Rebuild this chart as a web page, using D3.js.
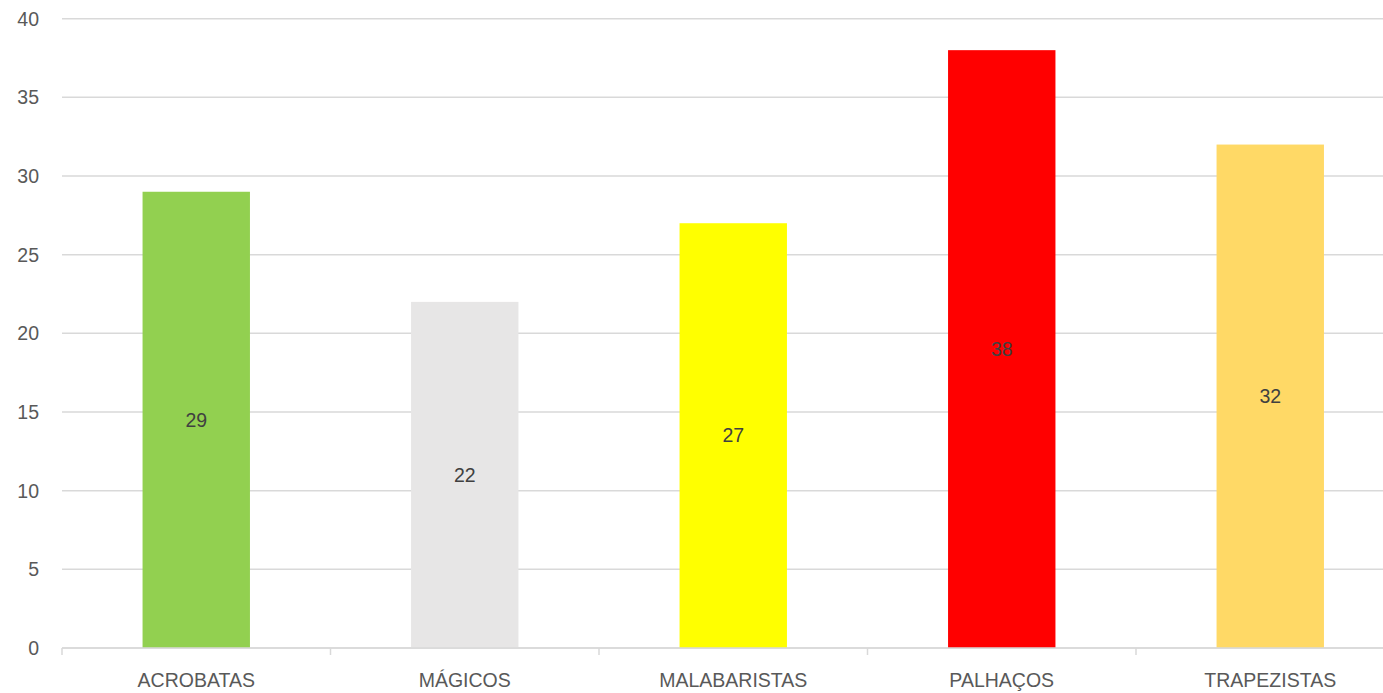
<!DOCTYPE html>
<html>
  <head>
    <meta charset="utf-8">
    <title>Circo</title>
    <script src="https://cdn.jsdelivr.net/npm/d3@7"></script>
    <style>
      body { margin: 0; background: #fff; }
      svg { display: block; font-family: "Liberation Sans", Arial, sans-serif; }
      .grid line { stroke: #d9d9d9; stroke-width: 1.5; }
      .tickLabel { fill: #595959; font-size: 19.5px; }
      .barLabel { fill: #404040; font-size: 19.5px; }
    </style>
  </head>
  <body>
    <svg id="chart" width="1383" height="693"></svg>

    <script>
      // data
      categories = ["ACROBATAS", "MÁGICOS", "MALABARISTAS", "PALHAÇOS", "TRAPEZISTAS"];
      values = [29, 22, 27, 38, 32];
      colours = ["#92d050", "#e7e6e6", "#ffff00", "#ff0000", "#ffd966"];
      yTicks = [0, 5, 10, 15, 20, 25, 30, 35, 40];

      svg = d3.select("#chart");

      // plot extends past the right edge of the picture
      left = 62;
      right = 1404.5;
      top_ = 18.7;
      bottom = 648;

      x = d3.scaleBand()
        .domain(categories)
        .range([left, right])
        .paddingInner(0.6)
        .paddingOuter(0.3);

      y = d3.scaleLinear()
        .domain([0, 40])
        .range([bottom, top_]);

      // gridlines
      svg.append("g")
        .attr("class", "grid")
        .selectAll("line")
          .data(yTicks)
        .enter().append("line")
          .attr("x1", left)
          .attr("x2", 1383)
          .attr("y1", function(d) { return y(d); })
          .attr("y2", function(d) { return y(d); });

      // y labels
      svg.append("g")
        .selectAll("text")
          .data(yTicks)
        .enter().append("text")
          .attr("class", "tickLabel")
          .attr("x", 39)
          .attr("y", function(d) { return y(d); })
          .attr("dy", "0.35em")
          .attr("text-anchor", "end")
          .text(function(d) { return d; });

      // bars
      svg.append("g")
        .selectAll("rect")
          .data(values)
        .enter().append("rect")
          .attr("x", function(d, i) { return x(categories[i]); })
          .attr("width", x.bandwidth())
          .attr("y", function(d) { return y(d); })
          .attr("height", function(d) { return y(0) - y(d); })
          .style("fill", function(d, i) { return colours[i]; });

      // category separators
      step = x.step();
      svg.append("g")
        .selectAll("line")
          .data(d3.range(categories.length))
        .enter().append("line")
          .attr("x1", function(d) { return left + d * step; })
          .attr("x2", function(d) { return left + d * step; })
          .attr("y1", bottom)
          .attr("y2", bottom + 7)
          .style("stroke", "#d9d9d9")
          .style("stroke-width", 1.5);

      // baseline
      svg.append("line")
        .attr("x1", left)
        .attr("x2", 1383)
        .attr("y1", bottom)
        .attr("y2", bottom)
        .style("stroke", "#d9d9d9")
        .style("stroke-width", 1.5);

      // data labels
      svg.append("g")
        .selectAll("text")
          .data(values)
        .enter().append("text")
          .attr("class", "barLabel")
          .attr("x", function(d, i) { return x(categories[i]) + x.bandwidth() / 2; })
          .attr("y", function(d) { return (y(d) + y(0)) / 2; })
          .attr("dy", "0.35em")
          .attr("text-anchor", "middle")
          .text(function(d) { return d; });

      // category labels
      svg.append("g")
        .selectAll("text")
          .data(categories)
        .enter().append("text")
          .attr("class", "tickLabel")
          .attr("x", function(d) { return x(d) + x.bandwidth() / 2; })
          .attr("y", 680)
          .attr("dy", "0.35em")
          .attr("text-anchor", "middle")
          .text(function(d) { return d; });
    </script>
  </body>
</html>
